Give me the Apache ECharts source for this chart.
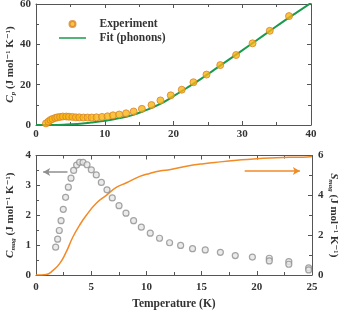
<!DOCTYPE html>
<html>
<head>
<meta charset="utf-8">
<script src="https://cdn.jsdelivr.net/npm/echarts@6/dist/echarts.min.js"></script>
<style>
html,body{margin:0;padding:0;background:#fff;}
#c{width:342px;height:310px;}
</style>
</head>
<body>
<div id="c"></div>
<script>
// ---- Top panel: Cp vs T ----
var cpExpT = [1.45,1.8,2.1,2.4,2.8,3.1,3.5,3.9,4.4,4.8,5.3,5.8,6.3,6.9,7.5,8.1,8.8,9.6,10.4,11.2,12.1,13.1,14.2,15.4,16.8,18.1,19.6,21.2,22.9,24.8,26.8,29.1,31.5,34.0,36.8];
var cpExpV = [0.8,1.7,2.5,3.0,3.5,3.8,4.0,4.2,4.2,4.1,4.0,3.8,3.8,3.7,3.7,3.7,3.8,4.0,4.3,4.8,5.2,5.8,6.7,8.0,9.9,12.2,14.7,17.5,21.2,25.0,29.7,34.7,40.5,46.7,54.0];
var fitT = [0,2,4,6,8,10,12,14,16,18,20,22,24,26,28,30,32,34,36,38,40];
var fitV = [0,0.02,0.15,0.5,1.2,2.1,3.3,4.9,7.4,10.3,14.3,18.5,22.9,27.6,32.3,37.0,41.8,46.6,51.4,56.0,60.5];

// ---- Bottom panel: Cmag and Smag vs T ----
var cmagT = [1.78,1.96,2.11,2.27,2.47,2.68,2.93,3.17,3.41,3.68,3.95,4.26,4.62,5.01,5.46,5.92,6.43,6.91,7.52,8.15,8.84,9.54,10.35,11.19,12.1,13.1,14.18,15.33,16.7,18.05,19.6,21.13,21.13,22.9,22.9,24.7,24.7];
var cmagV = [0.93,1.2,1.49,1.82,2.2,2.6,2.94,3.24,3.5,3.68,3.77,3.77,3.69,3.52,3.35,3.1,2.85,2.58,2.32,2.07,1.82,1.6,1.4,1.23,1.08,0.99,0.88,0.84,0.76,0.65,0.6,0.56,0.47,0.45,0.36,0.24,0.17];
var smagT = [0,0.5,0.93,1.54,2.14,2.74,3.35,3.95,4.56,5.46,6.37,7.27,8.2,9.4,10.3,11.2,12.2,13.5,15.2,16.7,18.2,19.7,21.2,23.0,24.6,25];
var smagV = [0,0,0.02,0.23,0.57,1.16,1.92,2.5,3.0,3.6,4.0,4.4,4.63,4.95,5.1,5.22,5.3,5.45,5.59,5.68,5.76,5.83,5.88,5.91,5.93,5.95];

// tick values / ranges
var topX = {min:0, max:40, interval:10};
var topY = {min:0, max:60, interval:20};
var botX = {min:0, max:25, interval:5};
var botYL = {min:0, max:4, interval:1};
var botYR = {min:0, max:6, interval:2};

// annotation arrows (data coordinates)
var arrowCmag = [[2.85,3.45],[0.65,3.45]];
var arrowSmag = [[18.9,5.22],[23.9,5.22]];

function zip(a,b){ return a.map(function(v,i){ return [v,b[i]]; }); }

var FONT = '"Liberation Serif", "DejaVu Serif", serif';
var axisCol = '#555';
var labelStyle = {fontFamily:FONT, fontWeight:'bold', fontSize:11, color:'#333'};

function mkAxis(base, opts){
  var a = {
    type:'value', min:base.min, max:base.max, interval:base.interval,
    splitLine:{show:false},
    nameMoveOverlap:false,
    axisLine:{show:true, onZero:false, lineStyle:{color:axisCol, width:1}},
    axisTick:{show:true, inside:true, length:4, lineStyle:{color:axisCol}},
    minorTick:{show:true, splitNumber:2, length:3, lineStyle:{color:axisCol}},
    axisLabel:Object.assign({show:true, margin:5}, labelStyle)
  };
  return Object.assign(a, opts);
}

var richName = {
  i:{fontFamily:FONT, fontStyle:'italic', fontWeight:'bold', fontSize:11, color:'#333'},
  sub:{fontFamily:FONT, fontStyle:'italic', fontWeight:'bold', fontSize:7, color:'#333', verticalAlign:'bottom', padding:[6,0,0,0]},
  t:{fontFamily:FONT, fontWeight:'bold', fontSize:11, color:'#333'}
};

var lineIcon = 'path://M0,0L0,0M0,3L36,3L36,5L0,5ZM36,8L36,8';

var chart = echarts.init(document.getElementById('c'), null, {renderer:'canvas'});
chart.setOption({
  animation:false,
  backgroundColor:'#fff',
  grid:[
    {left:36, right:31, top:4, height:121, containLabel:false, outerBoundsMode:'none'},
    {left:36, right:30, top:155.5, height:119.5, containLabel:false, outerBoundsMode:'none'}
  ],
  legend:{
    left:54, top:13, orient:'vertical', itemWidth:36, itemHeight:6, itemGap:2,
    textStyle:Object.assign({padding:[0,0,0,4]}, labelStyle, {fontSize:11.5}),
    data:[{name:'Experiment', icon:'circle'},{name:'Fit (phonons)', icon:lineIcon, itemStyle:{color:'#1a9a4c'}}]
  },
  xAxis:[
    mkAxis(topX, {gridIndex:0, position:'bottom', axisLabel:Object.assign({show:true, margin:4}, labelStyle)}),
    mkAxis(topX, {gridIndex:0, position:'top', axisLabel:{show:false}}),
    mkAxis(botX, {gridIndex:1, position:'bottom', axisLabel:Object.assign({show:true, margin:7}, labelStyle),
      name:'Temperature (K)', nameLocation:'middle', nameGap:23,
      nameTextStyle:{fontFamily:FONT, fontWeight:'bold', fontSize:11.5, color:'#333'}}),
    mkAxis(botX, {gridIndex:1, position:'top', axisLabel:{show:false}})
  ],
  yAxis:[
    mkAxis(topY, {gridIndex:0, position:'left',
      name:'{i|C}{sub|p}{t| (J mol⁻¹ K⁻¹)}', nameLocation:'middle', nameGap:19,
      nameTextStyle:{rich:richName}}),
    mkAxis(topY, {gridIndex:0, position:'right', axisLabel:{show:false}}),
    mkAxis(botYL, {gridIndex:1, position:'left',
      name:'{i|C}{sub|mag}{t| (J mol⁻¹ K⁻¹)}', nameLocation:'middle', nameGap:19,
      nameTextStyle:{rich:richName}}),
    mkAxis(botYR, {gridIndex:1, position:'right', axisLabel:Object.assign({show:true, margin:6}, labelStyle),
      name:'{i|S}{sub|mag}{t| (J mol⁻¹ K⁻¹)}', nameLocation:'middle', nameGap:15, nameRotate:-90,
      nameTextStyle:{rich:richName}})
  ],
  series:[
    {
      name:'Fit (phonons)', type:'line', xAxisIndex:0, yAxisIndex:0,
      data:zip(fitT, fitV), smooth:true, symbol:'none', clip:true,
      lineStyle:{color:'#1a9a4c', width:2}, itemStyle:{color:'#1a9a4c'}, z:2
    },
    {
      name:'Experiment', type:'scatter', xAxisIndex:0, yAxisIndex:0,
      data:zip(cpExpT, cpExpV), symbol:'circle', symbolSize:7,
      itemStyle:{color:'#f6b512', borderColor:'#d9832a', borderWidth:1}, z:3
    },
    {
      name:'Cmag', type:'scatter', xAxisIndex:2, yAxisIndex:2,
      data:zip(cmagT, cmagV), symbol:'circle', symbolSize:6,
      itemStyle:{color:'#e6e6e6', borderColor:'#8f8f8f', borderWidth:1.2}, z:3,
      markLine:{
        silent:true, symbol:['none','arrow'], symbolSize:[6,7], label:{show:false},
        lineStyle:{color:'#8f8f8f', width:1.5, type:'solid'},
        data:[[{coord:arrowCmag[0]},{coord:arrowCmag[1]}]]
      }
    },
    {
      name:'Smag', type:'line', xAxisIndex:2, yAxisIndex:3,
      data:zip(smagT, smagV), smooth:true, symbol:'none',
      lineStyle:{color:'#f28a25', width:1.5}, z:2,
      markLine:{
        silent:true, symbol:['none','arrow'], symbolSize:[6,7], label:{show:false},
        lineStyle:{color:'#f28a25', width:1.5, type:'solid'},
        data:[[{coord:arrowSmag[0]},{coord:arrowSmag[1]}]]
      }
    }
  ]
});
</script>
</body>
</html>
